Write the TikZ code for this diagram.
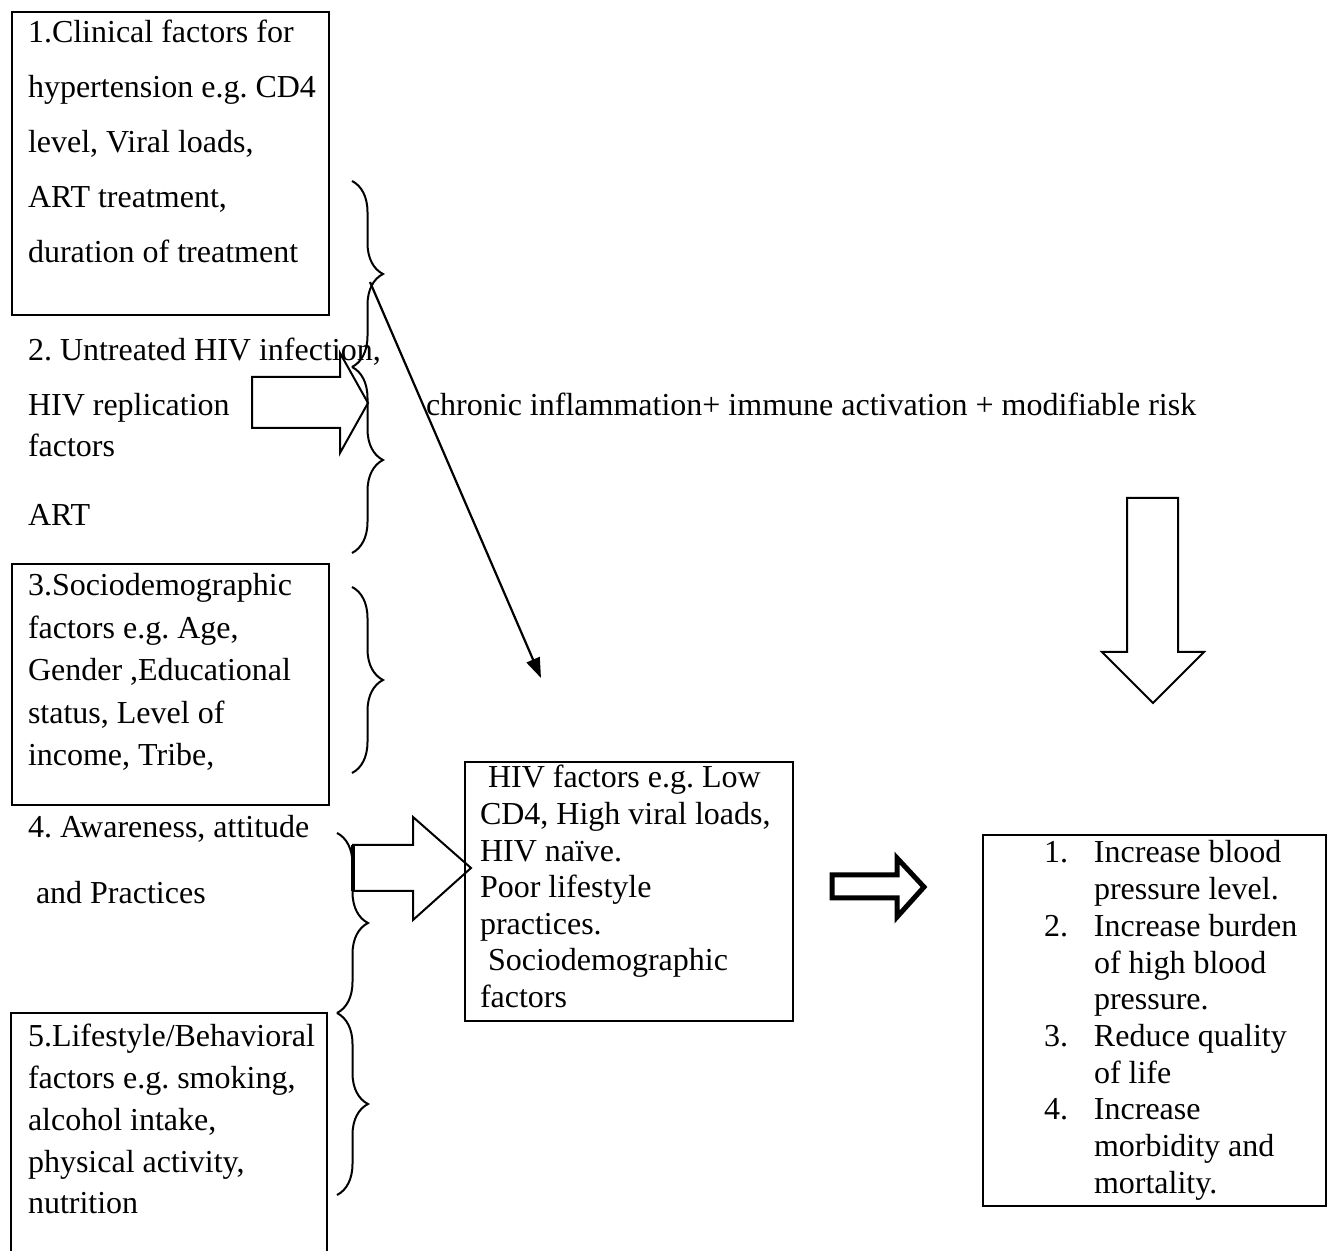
\documentclass[tikz,border=0pt]{standalone}
\usepackage{fontspec}
\setmainfont{Liberation Serif}
\usetikzlibrary{decorations.pathreplacing,arrows.meta}
\newcommand{\stk}[2]{\vtop{\baselineskip=#1\relax\lineskiplimit=-100pt\relax #2}}
\frenchspacing
\begin{document}
\begin{tikzpicture}[x=0.5pt, y=-0.5pt, line width=1pt,
  font=\fontsize{16pt}{18pt}\selectfont,
  txt/.style={inner sep=0pt, anchor=base west},
  box/.style={draw, line width=1.2pt, anchor=north west, inner sep=0pt},
  blk/.style={draw, line width=1pt, line join=miter},
  brc/.style={decorate, decoration={brace, amplitude=15.5pt}, line width=1pt}]
\useasboundingbox (0,0) rectangle (1330,1251);
\fill[white] (0,0) rectangle (1330,1251);

% boxes
\node[box, minimum width=158.5pt, minimum height=151.5pt] (b1) at (11,11) {};
\node[box, minimum width=158.5pt, minimum height=120.5pt] (b3) at (11,563) {};
\draw[line width=1.2pt] (11,1251) -- (11,1013) -- (327,1013) -- (327,1251);
\node[box, minimum width=164pt, minimum height=129.5pt] (mid) at (464,761) {};
\node[box, minimum width=171.5pt, minimum height=185.5pt] (res) at (982,834) {};

% texts
\node[txt] (t1) at (27,43) {\stk{27.5pt}{\hbox{1.Clinical factors for}\hbox{hypertension e.g. CD4}\hbox{level, Viral loads,}\hbox{ART treatment,}\hbox{duration of treatment}}};
\node[txt] (t2a) at (27,361) {2. Untreated HIV infection,};
\node[txt] (t2b) at (27,416) {HIV replication};
\node[txt] (t2c) at (27,457) {factors};
\node[txt] (t2d) at (27,526) {ART};
\node[txt] (t3) at (27,596) {\stk{21.25pt}{\hbox{3.Sociodemographic}\hbox{factors e.g. Age,}\hbox{Gender ,Educational}\hbox{status, Level of}\hbox{income, Tribe,}}};
\node[txt] (t4a) at (27,838) {4. Awareness, attitude};
\node[txt] (t4b) at (35,904) {and Practices};
\node[txt] (t5) at (27,1046) {\stk{21pt}{\hbox{5.Lifestyle/Behavioral}\hbox{factors e.g. smoking,}\hbox{alcohol intake,}\hbox{physical activity,}\hbox{nutrition}}};
\node[txt] (tmid) at (479,788) {\stk{18.3pt}{\hbox{\ HIV factors e.g. Low}\hbox{CD4, High viral loads,}\hbox{HIV naïve.}\hbox{Poor lifestyle}\hbox{practices.}\hbox{\ Sociodemographic}\hbox{factors}}};
\node[txt] (tchr) at (425,416) {chronic inflammation+ immune activation + modifiable risk};
\node[txt] (tres) at (1043,863) {\stk{18.35pt}{%
  \hbox{\hbox to 25pt{1.\hfil}Increase blood}
  \hbox{\hskip25pt pressure level.}
  \hbox{\hbox to 25pt{2.\hfil}Increase burden}
  \hbox{\hskip25pt of high blood}
  \hbox{\hskip25pt pressure.}
  \hbox{\hbox to 25pt{3.\hfil}Reduce quality}
  \hbox{\hskip25pt of life}
  \hbox{\hbox to 25pt{4.\hfil}Increase}
  \hbox{\hskip25pt morbidity and}
  \hbox{\hskip25pt mortality.}}};

% block arrows
\draw[blk] (252,377) -- (340,377) -- (340,353) -- (368,403) -- (340,453) -- (340,428) -- (252,428) -- cycle;
\draw[blk] (353,845) -- (413,845) -- (413,817) -- (471,868) -- (413,920) -- (413,891) -- (353,891) -- cycle;
\draw[line width=2.2pt] (353,845) -- (353,891);
\draw[blk, line width=2.5pt] (832,875) -- (897,875) -- (897,858) -- (924,887) -- (897,917) -- (897,898) -- (832,898) -- cycle;
\draw[blk] (1127,498) -- (1178,498) -- (1178,652) -- (1204,652) -- (1153,703) -- (1102,652) -- (1127,652) -- cycle;

% braces
\draw[brc] (352,181) -- (352,367);
\draw[brc] (352,367) -- (352,553);
\draw[brc] (352,587) -- (352,773);
\draw[brc] (337,833) -- (337,1013);
\draw[brc] (337,1013) -- (337,1195);

% diagonal arrow
\coordinate (dstart) at (370,282);
\coordinate (dend) at (541,678);
\draw[line width=1.1pt, -{Triangle[length=10pt,width=7pt]}] (dstart) -- (dend);
\end{tikzpicture}
\end{document}
